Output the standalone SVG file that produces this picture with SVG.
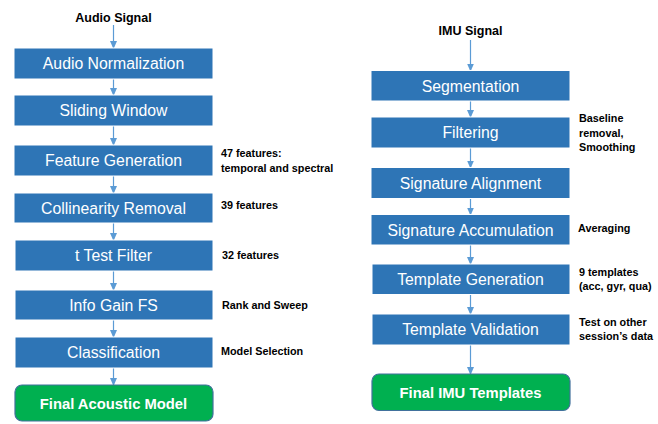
<svg xmlns="http://www.w3.org/2000/svg" width="658" height="424" viewBox="0 0 658 424">
<defs>
<marker id="ah" markerWidth="8" markerHeight="7" refX="7" refY="3.5" orient="auto" markerUnits="userSpaceOnUse">
<path d="M0,0 L8,3.5 L0,7 Z" fill="#5B9BD5"/>
</marker>
</defs>
<style>
.box{fill:#2E75B6;stroke:#ffffff;stroke-width:1}
.fin{fill:#00B050;stroke:#41719C;stroke-width:1.2}
.bt{font-family:"Liberation Sans",Arial,sans-serif;font-size:15.8px;fill:#ffffff;text-anchor:middle}
.ft{font-family:"Liberation Sans",Arial,sans-serif;font-size:14.8px;font-weight:bold;fill:#ffffff;text-anchor:middle}
.tt{font-family:"Liberation Sans",Arial,sans-serif;font-size:12.5px;font-weight:bold;fill:#000000;text-anchor:middle}
.lb{font-family:"Liberation Sans",Arial,sans-serif;font-size:10.8px;font-weight:bold;fill:#000000}
.c{stroke:#5B9BD5;stroke-width:1.2;fill:none;marker-end:url(#ah)}
</style>
<rect width="658" height="424" fill="#ffffff"/>
<g id="connectors">
<line class="c" x1="113.5" y1="25" x2="113.5" y2="48"/>
<line class="c" x1="113.5" y1="79" x2="113.5" y2="95"/>
<line class="c" x1="113.5" y1="126" x2="113.5" y2="145"/>
<line class="c" x1="113.5" y1="176" x2="113.5" y2="193"/>
<line class="c" x1="113.5" y1="223" x2="113.5" y2="240"/>
<line class="c" x1="113.5" y1="271" x2="113.5" y2="290"/>
<line class="c" x1="113.5" y1="320" x2="113.5" y2="337"/>
<line class="c" x1="113.5" y1="368" x2="113.5" y2="385"/>
<line class="c" x1="470.5" y1="40" x2="470.5" y2="70.5"/>
<line class="c" x1="470.5" y1="101" x2="470.5" y2="117"/>
<line class="c" x1="470.5" y1="148" x2="470.5" y2="167.5"/>
<line class="c" x1="470.5" y1="198.5" x2="470.5" y2="214.5"/>
<line class="c" x1="470.5" y1="245" x2="470.5" y2="264"/>
<line class="c" x1="470.5" y1="294.5" x2="470.5" y2="314"/>
<line class="c" x1="470.5" y1="345" x2="470.5" y2="374"/>
</g>
<g id="audio-signal"><text class="tt" x="113.5" y="22">Audio Signal</text></g>
<g id="audio-normalization"><rect class="box" x="14" y="48" width="199" height="31"/><text class="bt" x="113.5" y="69">Audio Normalization</text></g>
<g id="sliding-window"><rect class="box" x="14" y="95" width="199" height="31"/><text class="bt" x="113.5" y="116">Sliding Window</text></g>
<g id="feature-generation"><rect class="box" x="14" y="145" width="199" height="31"/><text class="bt" x="113.5" y="166">Feature Generation</text></g>
<g id="collinearity-removal"><rect class="box" x="14" y="193" width="199" height="30"/><text class="bt" x="113.5" y="213.5">Collinearity Removal</text></g>
<g id="t-test-filter"><rect class="box" x="15" y="240" width="198" height="31"/><text class="bt" x="113.5" y="261">t Test Filter</text></g>
<g id="info-gain-fs"><rect class="box" x="15" y="290" width="198" height="30"/><text class="bt" x="113.5" y="310.5">Info Gain FS</text></g>
<g id="classification"><rect class="box" x="15" y="337" width="198" height="31"/><text class="bt" x="113.5" y="358">Classification</text></g>
<g id="final-acoustic-model"><rect class="fin" x="15" y="385" width="198" height="36" rx="7"/><text class="ft" x="113.5" y="408.5">Final Acoustic Model</text></g>
<g id="audio-notes">
<text class="lb" x="221" y="157">47 features:</text>
<text class="lb" x="221" y="172">temporal and spectral</text>
<text class="lb" x="221" y="209">39 features</text>
<text class="lb" x="222" y="258.5">32 features</text>
<text class="lb" x="222" y="309">Rank and Sweep</text>
<text class="lb" x="221" y="355">Model Selection</text>
</g>
<g id="imu-signal"><text class="tt" x="470.5" y="35">IMU Signal</text></g>
<g id="segmentation"><rect class="box" x="371" y="70.5" width="199" height="30.5"/><text class="bt" x="470.5" y="91.5">Segmentation</text></g>
<g id="filtering"><rect class="box" x="371" y="117" width="199" height="31"/><text class="bt" x="470.5" y="138">Filtering</text></g>
<g id="signature-alignment"><rect class="box" x="371" y="167.5" width="199" height="31"/><text class="bt" x="470.5" y="188.5">Signature Alignment</text></g>
<g id="signature-accumulation"><rect class="box" x="371" y="214.5" width="199" height="30.5"/><text class="bt" x="470.5" y="235.5">Signature Accumulation</text></g>
<g id="template-generation"><rect class="box" x="372" y="264" width="198" height="30.5"/><text class="bt" x="470.5" y="285">Template Generation</text></g>
<g id="template-validation"><rect class="box" x="372" y="314" width="198" height="31"/><text class="bt" x="470.5" y="335">Template Validation</text></g>
<g id="final-imu-templates"><rect class="fin" x="372" y="374" width="198" height="36.5" rx="7"/><text class="ft" x="470.5" y="397.5">Final IMU Templates</text></g>
<g id="imu-notes">
<text class="lb" x="579" y="121.5">Baseline</text>
<text class="lb" x="579" y="136.5">removal,</text>
<text class="lb" x="579" y="151">Smoothing</text>
<text class="lb" x="578" y="232">Averaging</text>
<text class="lb" x="579" y="275.5">9 templates</text>
<text class="lb" x="579" y="290">(acc, gyr, qua)</text>
<text class="lb" x="579" y="325.5">Test on other</text>
<text class="lb" x="579" y="340">session’s data</text>
</g>
</svg>
